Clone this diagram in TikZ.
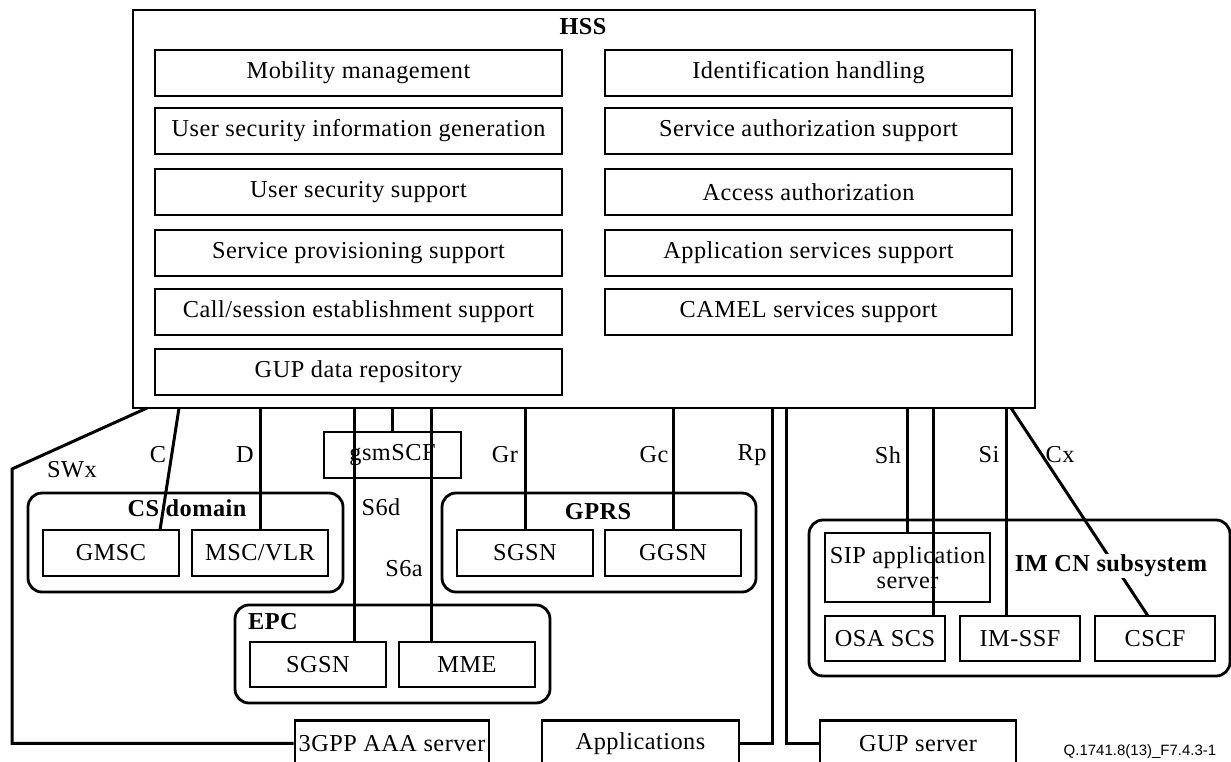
\documentclass[tikz,border=0pt]{standalone}
\usepackage{fontspec}
\setmainfont{Liberation Serif}[LetterSpace=2]
\newfontfamily\qfont{Liberation Sans}
\usetikzlibrary{calc}
\begin{document}
\begin{tikzpicture}[x=1pt,y=-1pt,
  every node/.style={font=\fontsize{24.3}{25}\selectfont},
  fb/.style={draw, line width=2.8pt, minimum height=46, inner sep=1pt, align=center},
  grp/.style={draw, line width=2.8pt, rounded corners=14pt, inner sep=0pt},
  conn/.style={line width=3pt},
  lbl/.style={inner sep=0pt},
  blbl/.style={inner sep=0pt, font=\fontsize{24.3}{25}\selectfont\bfseries}]
\useasboundingbox (0,0) rectangle (1231,762);
\clip (0,0) rectangle (1231,762);

% HSS
\node[grp, rounded corners=0pt, minimum width=902, minimum height=398] (hss) at (584,209) {};
\node[blbl] (hsslbl) at (583,27) {HSS};
\node[fb, minimum width=407] (mm)  at (358.5,73)  {Mobility management};
\node[fb, minimum width=407] (usig) at (358.5,131) {User security information generation};
\node[fb, minimum width=407] (uss) at (358.5,192) {User security support};
\node[fb, minimum width=407] (sps) at (358.5,253) {Service provisioning support};
\node[fb, minimum width=407] (cses) at (358.5,312) {Call/session establishment support};
\node[fb, minimum width=407] (gup) at (358.5,372) {GUP data repository};
\node[fb, minimum width=407] (idh) at (808.5,73)  {Identification handling};
\node[fb, minimum width=407] (sas) at (808.5,131) {Service authorization support};
\node[fb, minimum width=407] (aa)  at (808.5,192) {Access authorization};
\node[fb, minimum width=407] (ass) at (808.5,253) {Application services support};
\node[fb, minimum width=407] (cam) at (808.5,312) {CAMEL services support};

% groups
\node[grp, minimum width=315, minimum height=99] (cs) at (185.5,542.5) {};
\node[blbl] (cslbl) at (187,508) {CS domain};
\node[fb, minimum width=136] (gmsc) at (111,553) {GMSC};
\node[fb, minimum width=136] (msc) at (260,553) {MSC/VLR};

\node[grp, minimum width=314, minimum height=99] (gprs) at (599,542.5) {};
\node[blbl] (gprslbl) at (598,512) {GPRS};
\node[fb, minimum width=136] (sgsna) at (525,553) {SGSN};
\node[fb, minimum width=136] (ggsn) at (673,553) {GGSN};

\node[grp, minimum width=315, minimum height=98] (epc) at (392.5,654) {};
\node[blbl] (epclbl) at (273,622) {EPC};
\node[fb, minimum width=136, minimum height=45] (sgsnb) at (318,664.5) {SGSN};
\node[fb, minimum width=136, minimum height=45] (mme) at (467,664.5) {MME};

\node[fb, minimum width=137] (gsm) at (392.5,455) {gsmSCF};

\node[grp, minimum width=421, minimum height=156] (imcn) at (1019.5,598) {};
\node[fb, minimum width=165, minimum height=69] (sip) at (907.5,567.5) {SIP application\\server};
\node[fb, minimum width=120, minimum height=45] (osa) at (885,638.5) {OSA SCS};
\node[fb, minimum width=120, minimum height=45] (imssf) at (1020,638.5) {IM-SSF};
\node[fb, minimum width=120, minimum height=45] (cscf) at (1155,638.5) {CSCF};

\node[fb, minimum width=194, anchor=north] (aaa) at (392,719) {3GPP AAA server};
\node[fb, minimum width=197, anchor=north] (apps) at (640.5,719) {Applications};
\node[fb, minimum width=196, anchor=north] (gups) at (918,719) {GUP server};

% connection points
\coordinate (hSW) at (147,408);
\coordinate (kSW1) at (12,469);
\coordinate (hC) at (179,408);
\coordinate (tC) at (160,530);
\coordinate (hS6d) at (354,408);
\coordinate (tS6d) at (354,642);
\coordinate (hS6a) at (431,408);
\coordinate (tS6a) at (431,642);
\coordinate (hRp) at (772,408);
\coordinate (hGU) at (786,408);
\coordinate (hOSA) at (933,408);
\coordinate (tOSA) at (933,616);
\coordinate (hSi) at (1006,408);
\coordinate (tSi) at (1006,616);
\coordinate (hCx) at (1011,408);
\coordinate (tCx) at (1148,616);

% connectors
\draw[conn] (hSW) -- (kSW1) |- (aaa.west);
\draw[conn] (hC) -- (tC);
\draw[conn] (msc.north |- hss.south) -- (msc.north);
\draw[conn] (hS6d) -- (tS6d);
\draw[conn] (hS6a) -- (tS6a);
\draw[conn] (gsm.north |- hss.south) -- (gsm.north);
\draw[conn] (sgsna.north |- hss.south) -- (sgsna.north);
\draw[conn] (ggsn.north |- hss.south) -- (ggsn.north);
\draw[conn] (hRp) |- (apps.east);
\draw[conn] (hGU) |- (gups.west);
\draw[conn] (sip.north |- hss.south) -- (sip.north);
\draw[conn] (hOSA) -- (tOSA);
\draw[conn] (hSi) -- (tSi);
\draw[conn] (hCx) -- (tCx);

% interface labels
\node[lbl] (lSW) at (72,470) {SWx};
\node[lbl] (lC) at (158,455) {C};
\node[lbl] (lD) at (245,455) {D};
\node[lbl] (lS6d) at (381,507) {S6d};
\node[lbl] (lS6a) at (404,569) {S6a};
\node[lbl] (lGr) at (505,455) {Gr};
\node[lbl] (lGc) at (654,455) {Gc};
\node[lbl] (lRp) at (752,455) {Rp};
\node[lbl] (lSh) at (888,455) {Sh};
\node[lbl] (lSi) at (989,455) {Si};
\node[lbl] (lCx) at (1060,455) {Cx};
\node[blbl, fill=white, inner sep=1pt] (imcnlbl) at (1111,566) {IM CN subsystem};

\node[inner sep=0pt, font=\fontsize{15}{16}\selectfont\qfont] (fig) at (1140,752) {Q.1741.8(13)\_F7.4.3-1};
\end{tikzpicture}
\end{document}
